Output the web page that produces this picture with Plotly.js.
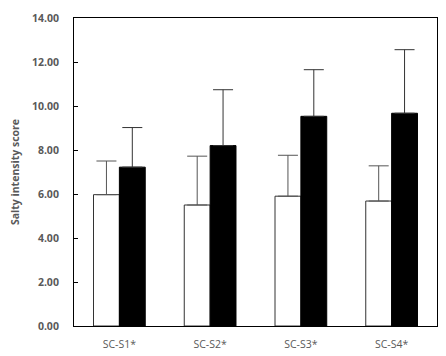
<!DOCTYPE html>
<html>
<head>
<meta charset="utf-8">
<script src="https://cdn.plot.ly/plotly-3.0.1.min.js"></script>
<style>html,body{margin:0;padding:0;background:#fff;}#chart{width:446px;height:356px;}</style>
</head>
<body>
<div id="chart"></div>
<script>
var categories = ["SC-S1*", "SC-S2*", "SC-S3*", "SC-S4*"];
var whiteMeans = [5.97, 5.50, 5.90, 5.68];
var whiteSD = [1.53, 2.22, 1.86, 1.60];
var blackMeans = [7.22, 8.20, 9.53, 9.67];
var blackSD = [1.80, 2.54, 2.12, 2.89];
var yTicks = [0, 2, 4, 6, 8, 10, 12, 14];
var yTickText = ["0.00", "2.00", "4.00", "6.00", "8.00", "10.00", "12.00", "14.00"];

var zeros = categories.map(function(){ return 0; });

var traces = [
  {
    type: "bar", x: categories, y: whiteMeans, name: "A",
    marker: {color: "#ffffff", line: {color: "#333333", width: 1}},
    error_y: {type: "data", symmetric: false, array: whiteSD, arrayminus: zeros,
              color: "#555555", thickness: 1, width: 10}
  },
  {
    type: "bar", x: categories, y: blackMeans, name: "B",
    marker: {color: "#000000", line: {color: "#000000", width: 1}},
    error_y: {type: "data", symmetric: false, array: blackSD, arrayminus: zeros,
              color: "#333333", thickness: 1, width: 10}
  }
];

var fam = "Open Sans, DejaVu Sans, sans-serif";

var layout = {
  width: 446, height: 356,
  margin: {l: 74, r: 9, t: 18, b: 30},
  paper_bgcolor: "#ffffff", plot_bgcolor: "#ffffff",
  showlegend: false,
  barmode: "group",
  bargap: 0.43, bargroupgap: 0,
  font: {family: fam, size: 10, color: "#595959"},
  xaxis: {
    showline: true, linecolor: "#000000", linewidth: 1, mirror: true,
    ticks: "", showgrid: false, zeroline: false,
    ticklabelstandoff: 8,
    tickfont: {family: fam, size: 10.5, color: "#595959"}
  },
  yaxis: {
    range: [0, 14],
    tickvals: yTicks, ticktext: yTickText,
    showline: true, linecolor: "#000000", linewidth: 1, mirror: true,
    ticks: "inside", ticklen: 4, tickcolor: "#000000",
    ticklabelstandoff: 12,
    showgrid: false, zeroline: false,
    tickfont: {family: fam, size: 10.5, color: "#595959", weight: "bold"},
    title: {text: "Salty intensity score", standoff: 10,
            font: {family: fam, size: 10.5, color: "#595959", weight: "bold"}}
  }
};

Plotly.newPlot("chart", traces, layout, {displayModeBar: false, staticPlot: true});
</script>
</body>
</html>
